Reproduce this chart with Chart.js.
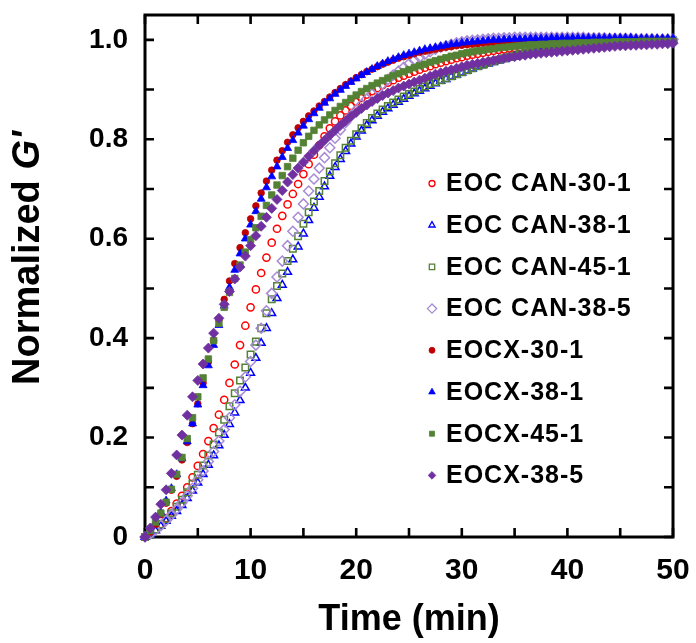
<!DOCTYPE html>
<html><head><meta charset="utf-8">
<script src="https://cdn.jsdelivr.net/npm/chart.js@4.4.1/dist/chart.umd.min.js"></script>
<style>html,body{margin:0;padding:0;background:#fff}#wrap{width:696px;height:643px;position:relative}</style>
</head><body><div id="wrap"><canvas id="c"></canvas></div>
<script>
// ---- data ----
const times = [
0,0.5,1,1.5,2,2.5,3,3.5,4,4.5,
5,5.5,6,6.5,7,7.5,8,8.5,9,9.5,
10,10.5,11,11.5,12,12.5,13,13.5,14,14.5,
15,15.5,16,16.5,17,17.5,18,18.5,19,19.5,
20,20.5,21,21.5,22,22.5,23,23.5,24,24.5,
25,25.5,26,26.5,27,27.5,28,28.5,29,29.5,
30,30.5,31,31.5,32,32.5,33,33.5,34,34.5,
35,35.5,36,36.5,37,37.5,38,38.5,39,39.5,
40,40.5,41,41.5,42,42.5,43,43.5,44,44.5,
45,45.5,46,46.5,47,47.5,48,48.5,49,49.5,
50];
const seriesNames = ['EOC CAN-30-1','EOC CAN-38-1','EOC CAN-45-1','EOC CAN-38-5','EOCX-30-1','EOCX-38-1','EOCX-45-1','EOCX-38-5'];
const eocCan30_1 = [
0,0.007,0.015,0.026,0.038,0.052,0.067,0.083,0.100,0.120,
0.143,0.167,0.193,0.219,0.246,0.276,0.310,0.347,0.386,0.425,
0.462,0.498,0.531,0.562,0.592,0.620,0.646,0.669,0.690,0.710,
0.730,0.750,0.769,0.788,0.806,0.822,0.836,0.848,0.858,0.867,
0.875,0.883,0.890,0.897,0.903,0.909,0.914,0.919,0.924,0.928,
0.932,0.936,0.940,0.944,0.947,0.951,0.954,0.957,0.960,0.963,
0.965,0.968,0.970,0.972,0.974,0.976,0.978,0.980,0.981,0.983,
0.984,0.985,0.986,0.987,0.988,0.989,0.990,0.991,0.992,0.992,
0.993,0.994,0.994,0.995,0.995,0.996,0.996,0.996,0.997,0.997,
0.997,0.998,0.998,0.998,0.999,0.999,0.999,0.999,1.000,1.000,
1.000];
const eocCan38_1 = [
0,0.005,0.013,0.022,0.032,0.042,0.052,0.064,0.078,0.093,
0.109,0.126,0.145,0.164,0.184,0.205,0.227,0.250,0.275,0.300,
0.330,0.360,0.390,0.420,0.450,0.480,0.507,0.533,0.558,0.584,
0.610,0.637,0.662,0.684,0.705,0.726,0.744,0.760,0.776,0.791,
0.805,0.817,0.828,0.838,0.847,0.855,0.862,0.869,0.875,0.881,
0.887,0.892,0.897,0.902,0.907,0.912,0.917,0.921,0.926,0.930,
0.934,0.938,0.942,0.946,0.949,0.952,0.955,0.958,0.961,0.964,
0.966,0.969,0.971,0.973,0.975,0.977,0.979,0.981,0.982,0.984,
0.985,0.986,0.987,0.988,0.989,0.990,0.991,0.992,0.993,0.993,
0.994,0.995,0.996,0.996,0.997,0.997,0.998,0.998,0.999,0.999,
1.000];
const eocCan45_1 = [
0,0.006,0.015,0.025,0.036,0.048,0.061,0.075,0.090,0.107,
0.125,0.144,0.164,0.186,0.210,0.236,0.263,0.289,0.315,0.341,
0.367,0.393,0.420,0.450,0.478,0.505,0.530,0.555,0.580,0.605,
0.630,0.653,0.675,0.696,0.716,0.735,0.752,0.768,0.783,0.797,
0.810,0.822,0.833,0.843,0.852,0.860,0.867,0.874,0.880,0.886,
0.891,0.896,0.901,0.906,0.911,0.915,0.919,0.923,0.927,0.931,
0.935,0.939,0.943,0.947,0.950,0.954,0.957,0.960,0.963,0.966,
0.968,0.971,0.973,0.975,0.977,0.979,0.980,0.982,0.983,0.985,
0.986,0.987,0.988,0.989,0.990,0.991,0.992,0.993,0.994,0.994,
0.995,0.995,0.996,0.996,0.997,0.997,0.998,0.998,0.998,0.999,
0.999];
const eocCan38_5 = [
0,0.006,0.014,0.023,0.033,0.044,0.056,0.069,0.083,0.098,
0.115,0.133,0.152,0.172,0.193,0.216,0.240,0.266,0.293,0.322,
0.353,0.386,0.420,0.455,0.490,0.523,0.555,0.586,0.615,0.643,
0.670,0.696,0.720,0.742,0.763,0.783,0.802,0.819,0.834,0.847,
0.859,0.870,0.881,0.891,0.901,0.911,0.920,0.929,0.937,0.945,
0.952,0.959,0.965,0.971,0.976,0.981,0.985,0.988,0.991,0.994,
0.996,0.998,0.999,1.000,1.001,1.002,1.003,1.003,1.004,1.004,
1.005,1.005,1.005,1.005,1.005,1.005,1.005,1.005,1.005,1.005,
1.005,1.005,1.005,1.005,1.004,1.004,1.004,1.004,1.003,1.003,
1.003,1.003,1.003,1.002,1.002,1.002,1.002,1.001,1.001,1.001,
1.001];
const eocx30_1 = [
0,0.010,0.025,0.045,0.068,0.094,0.122,0.155,0.190,0.228,
0.268,0.310,0.352,0.395,0.437,0.478,0.515,0.550,0.582,0.612,
0.640,0.666,0.692,0.716,0.738,0.758,0.777,0.794,0.809,0.823,
0.836,0.847,0.857,0.867,0.876,0.885,0.894,0.902,0.910,0.917,
0.924,0.930,0.936,0.941,0.946,0.951,0.955,0.959,0.963,0.966,
0.969,0.972,0.975,0.977,0.979,0.981,0.983,0.985,0.986,0.988,
0.989,0.990,0.991,0.992,0.993,0.994,0.994,0.995,0.995,0.996,
0.996,0.996,0.997,0.997,0.997,0.998,0.998,0.998,0.998,0.998,
0.999,0.999,0.999,0.999,0.999,0.999,0.999,1.000,1.000,1.000,
1.000,1.000,1.000,1.000,1.000,1.000,1.000,1.000,1.000,1.000,
1.000];
const eocx38_1 = [
0,0.012,0.030,0.050,0.073,0.098,0.126,0.158,0.192,0.228,
0.266,0.305,0.345,0.386,0.426,0.465,0.502,0.537,0.570,0.600,
0.628,0.655,0.680,0.703,0.725,0.745,0.764,0.782,0.798,0.813,
0.827,0.840,0.852,0.863,0.873,0.882,0.891,0.899,0.907,0.915,
0.922,0.929,0.935,0.941,0.947,0.952,0.957,0.961,0.965,0.969,
0.972,0.975,0.978,0.981,0.983,0.985,0.987,0.989,0.991,0.992,
0.994,0.995,0.996,0.997,0.998,0.999,1.000,1.000,1.001,1.001,
1.002,1.002,1.002,1.003,1.003,1.003,1.003,1.004,1.004,1.004,
1.004,1.004,1.004,1.004,1.004,1.004,1.004,1.004,1.004,1.004,
1.004,1.004,1.004,1.003,1.003,1.003,1.003,1.003,1.003,1.003,
1.003];
const eocx45_1 = [
0,0.013,0.030,0.048,0.070,0.096,0.126,0.160,0.198,0.240,
0.282,0.320,0.358,0.395,0.430,0.462,0.492,0.520,0.547,0.573,
0.598,0.622,0.645,0.667,0.688,0.708,0.727,0.745,0.762,0.778,
0.793,0.806,0.818,0.829,0.839,0.849,0.858,0.866,0.874,0.882,
0.889,0.896,0.902,0.908,0.913,0.918,0.923,0.928,0.932,0.936,
0.940,0.944,0.948,0.951,0.955,0.958,0.961,0.964,0.967,0.969,
0.972,0.974,0.976,0.978,0.979,0.981,0.982,0.984,0.985,0.986,
0.987,0.988,0.989,0.990,0.990,0.991,0.991,0.992,0.992,0.993,
0.993,0.993,0.994,0.994,0.994,0.995,0.995,0.995,0.995,0.996,
0.996,0.996,0.996,0.996,0.997,0.997,0.997,0.997,0.997,0.997,
0.997];
const eocx38_5 = [
0,0.018,0.040,0.066,0.095,0.128,0.165,0.205,0.245,0.282,
0.315,0.348,0.380,0.410,0.440,0.468,0.494,0.519,0.543,0.565,
0.586,0.606,0.625,0.643,0.661,0.679,0.697,0.714,0.729,0.742,
0.754,0.766,0.777,0.788,0.798,0.808,0.818,0.828,0.837,0.846,
0.854,0.862,0.869,0.876,0.882,0.888,0.893,0.898,0.903,0.907,
0.911,0.915,0.919,0.923,0.927,0.931,0.934,0.937,0.940,0.943,
0.946,0.949,0.951,0.953,0.955,0.957,0.959,0.961,0.963,0.965,
0.966,0.968,0.969,0.971,0.972,0.973,0.974,0.975,0.976,0.977,
0.978,0.979,0.980,0.981,0.982,0.983,0.984,0.985,0.986,0.987,
0.988,0.988,0.989,0.989,0.990,0.990,0.991,0.991,0.992,0.992,
0.993];
const xTickLabels = ['0','10','20','30','40','50'];
const yTickLabels = ['0','0.2','0.4','0.6','0.8','1.0'];
const xTitle = 'Time (min)';
const yTitleMain = 'Normalized ';
const yTitleItalic = "G'";

// ---- styles ----
const FONT = '"Liberation Sans", Arial, Helvetica, sans-serif';
const seriesValues = [eocCan30_1, eocCan38_1, eocCan45_1, eocCan38_5, eocx30_1, eocx38_1, eocx45_1, eocx38_5];
const styles = [
  {shape:'circle',   color:'#FF0000', fill:false, r:3.6, lr:3.0},
  {shape:'triangle', color:'#0000FF', fill:false, r:4.5, lr:3.6},
  {shape:'rect',     color:'#548235', fill:false, r:4.6, lr:3.8},
  {shape:'rectRot',  color:'#A68AD4', fill:false, r:5.0, lr:4.6},
  {shape:'circle',   color:'#C00000', fill:true,  r:3.3, lr:3.0},
  {shape:'triangle', color:'#0000FF', fill:true,  r:4.6, lr:3.8},
  {shape:'rect',     color:'#548235', fill:true,  r:4.6, lr:3.6},
  {shape:'rectRot',  color:'#7030A0', fill:true,  r:5.0, lr:3.8}
];

const datasets = seriesNames.map((name, i) => {
  const s = styles[i];
  return {
    label: name,
    data: times.map((t, k) => ({x: t, y: seriesValues[i][k]})),
    showLine: false,
    pointStyle: s.shape,
    pointRadius: s.r,
    pointBorderWidth: s.fill ? 0.8 : 1.5,
    pointBorderColor: s.color,
    pointBackgroundColor: s.fill ? s.color : 'rgba(0,0,0,0)',
    order: seriesNames.length - i,
    clip: false
  };
});

const framePlugin = {
  id: 'frame',
  beforeDatasetsDraw(chart) {
    const {ctx, chartArea: a, scales: {x, y}} = chart;
    ctx.save();
    ctx.strokeStyle = '#000';
    ctx.lineWidth = 2.6;
    ctx.lineCap = 'butt';
    const TL = 9;
    x.ticks.forEach(t => {
      const px = x.getPixelForValue(t.value);
      ctx.beginPath();
      ctx.moveTo(px, a.bottom); ctx.lineTo(px, a.bottom - TL);
      ctx.moveTo(px, a.top); ctx.lineTo(px, a.top + TL);
      ctx.stroke();
    });
    y.ticks.forEach(t => {
      const py = y.getPixelForValue(t.value);
      ctx.beginPath();
      ctx.moveTo(a.left, py); ctx.lineTo(a.left + TL, py);
      ctx.moveTo(a.right, py); ctx.lineTo(a.right - TL, py);
      ctx.stroke();
    });
    ctx.lineWidth = 3;
    ctx.strokeRect(a.left, a.top, a.right - a.left, a.bottom - a.top);
    ctx.restore();
  }
};

const legendBox = {markerX: 432, textX: 446, firstY: 183.5, step: 41.7, font: 'bold 25px ' + FONT};
const legendPlugin = {
  id: 'insideLegend',
  afterDraw(chart) {
    const ctx = chart.ctx;
    ctx.save();
    chart.data.datasets.forEach((ds, i) => {
      const s = styles[i];
      const yy = legendBox.firstY + i * legendBox.step;
      ctx.fillStyle = s.fill ? s.color : 'rgba(0,0,0,0)';
      ctx.strokeStyle = s.color;
      ctx.lineWidth = s.fill ? 0.8 : 1.3;
      Chart.helpers.drawPoint(ctx, {pointStyle: s.shape, radius: s.lr, rotation: 0, borderWidth: ctx.lineWidth}, legendBox.markerX, yy);
      ctx.fillStyle = '#000';
      ctx.font = legendBox.font;
      ctx.letterSpacing = '1px';
      ctx.textAlign = 'left';
      ctx.textBaseline = 'middle';
      ctx.fillText(ds.label, legendBox.textX, yy + 1);
      ctx.letterSpacing = '0px';
    });
    ctx.restore();
  }
};

const yTitlePlugin = {
  id: 'yTitle',
  afterDraw(chart) {
    const ctx = chart.ctx;
    ctx.save();
    ctx.translate(29, 258);
    ctx.rotate(-Math.PI / 2);
    ctx.fillStyle = '#000';
    ctx.textBaseline = 'middle';
    ctx.textAlign = 'left';
    const f1 = 'bold 38px ' + FONT, f2 = 'italic bold 38px ' + FONT;
    ctx.font = f1; const w1 = ctx.measureText(yTitleMain).width;
    ctx.font = f2; const w2 = ctx.measureText(yTitleItalic).width;
    const x0 = -(w1 + w2) / 2;
    ctx.font = f1; ctx.fillText(yTitleMain, x0, 0);
    ctx.font = f2; ctx.fillText(yTitleItalic, x0 + w1, 0);
    ctx.restore();
  }
};

Chart.defaults.font.family = FONT;
Chart.defaults.color = '#000';

new Chart(document.getElementById('c'), {
  type: 'scatter',
  data: {datasets},
  options: {
    responsive: true,
    maintainAspectRatio: false,
    animation: false,
    devicePixelRatio: 1,
    layout: {padding: {top: 15, right: 23, left: 0, bottom: 0}},
    plugins: {legend: {display: false}, tooltip: {enabled: false}},
    scales: {
      x: {
        type: 'linear', min: 0, max: 50,
        grid: {display: false, drawTicks: false},
        border: {display: false},
        ticks: {
          stepSize: 5, autoSkip: false, maxRotation: 0, padding: 16,
          font: {size: 30, weight: 'bold'},
          callback: v => xTickLabels.find(l => Math.abs(Number(l) - v) < 1e-6) || ''
        },
        title: {display: true, text: xTitle, font: {size: 36, weight: 'bold'}, padding: {top: 0, bottom: 1}},
        afterFit: s => { s.height = 106; s.paddingLeft = 0; s.paddingRight = 0; }
      },
      y: {
        type: 'linear', min: 0, max: 1.05,
        grid: {display: false, drawTicks: false},
        border: {display: false},
        ticks: {
          stepSize: 0.1, includeBounds: false, autoSkip: false, padding: 17,
          font: {size: 28, weight: 'bold'},
          callback: v => yTickLabels.find(l => Math.abs(Number(l) - v) < 1e-6) || ''
        },
        afterFit: s => { s.width = 145; s.paddingTop = 0; s.paddingBottom = 0; }
      }
    }
  },
  plugins: [framePlugin, legendPlugin, yTitlePlugin]
});
</script>
</body></html>
